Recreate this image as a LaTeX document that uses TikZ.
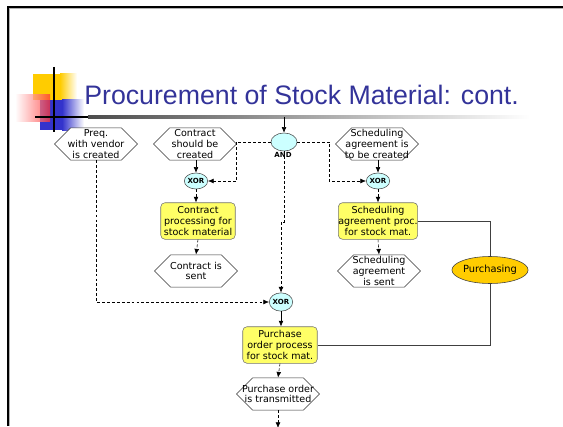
\documentclass[tikz,border=0pt]{standalone}
\usepackage{fontspec}
\usetikzlibrary{shapes.symbols,shapes.geometric,arrows.meta}
\setmainfont{Liberation Sans}
\newfontfamily\diafont{DejaVu Sans}
\definecolor{titleblue}{HTML}{333399}
\definecolor{funcyellow}{HTML}{FFFF66}
\definecolor{conncyan}{HTML}{CCFFFF}
\definecolor{orgorange}{HTML}{FFCC00}
\definecolor{logoblue}{HTML}{3333CC}
\definecolor{logored}{HTML}{FF3333}
\begin{document}
\begin{tikzpicture}[x=0.025cm,y=-0.025cm,>={Latex[length=4pt,width=3.4pt]},
    evtext/.style={inner sep=0pt,align=center,font=\diafont\fontsize{6.8}{7.7}\selectfont},
    event/.style={signal,signal to=east and west,draw=black!80,fill=white,
        minimum width=59pt,minimum height=23pt,inner sep=0pt,
        label={[evtext]center:{#1}}},
    func/.style={rectangle,rounded corners=3pt,draw=black!55,fill=funcyellow,
        minimum width=53pt,minimum height=26pt,inner sep=0pt,align=center,
        font=\diafont\fontsize{6.8}{7.7}\selectfont},
    conn/.style={ellipse,draw=black!70,fill=conncyan,minimum width=15.6pt,
        minimum height=11.4pt,inner sep=0pt,font=\diafont\bfseries\fontsize{5}{5}\selectfont},
    flow/.style={dash pattern=on 2pt off 1.5pt,->},
    link/.style={draw=black!75}]
    \useasboundingbox (0,0) rectangle (563,426);
    % frame
    \draw[gray!60,line width=1.4pt] (9.5,426) -- (9.5,8.5) -- (563,8.5);
    \draw[line width=1.2pt] (8,426) -- (8,7) -- (563,7);
    % logo
    \fill[orgorange] (33,74) rectangle (60,100);
    \shade[left color=orgorange,right color=white] (60,74) rectangle (77,100);
    \fill[logoblue] (40,100) rectangle (62,130);
    \shade[left color=logoblue,right color=white] (62,100) rectangle (84,130);
    \shade[left color=white,right color=logored,opacity=.75] (15,95) rectangle (50,122);
    \draw[line width=1.3pt] (54,67) -- (54,132);
    \draw[line width=1.3pt] (35,117) -- (90,117);
    \shade[left color=black!70,right color=white] (88,115.8) rectangle (530,118.2);
    \node[anchor=base west,inner sep=0pt,text=titleblue,font=\fontsize{19}{22}\selectfont]
        (title) at (84,105) {Procurement of Stock Material: cont.};
    % diagram
    \node[conn,minimum width=18.5pt,minimum height=12.8pt] (and) at (284,142) {};
    \node[font=\diafont\bfseries\fontsize{5}{5}\selectfont,inner sep=0pt] (andlbl) at (283,155) {AND};
    \node[event={Preq.\\with vendor\\is created}] (preq) at (96,144) {};
    \node[event={Contract\\should be\\created}] (cshould) at (195,144) {};
    \node[event={Scheduling\\agreement is\\to be created}] (sshould) at (377,144) {};
    \node[conn] (xorc) at (196,181) {XOR};
    \node[conn] (xors) at (378,181) {XOR};
    \node[func] (cproc) at (198,221) {Contract\\processing for\\stock material};
    \node[func,minimum width=55pt] (sproc) at (378,221) {Scheduling\\agreement proc.\\for stock mat.};
    \node[event={Contract is\\sent}] (csent) at (196,271) {};
    \node[event={Scheduling\\agreement\\is sent}] (ssent) at (379,271) {};
    \node[ellipse,draw=black!75,fill=orgorange,minimum width=54pt,minimum height=19.2pt,
        inner sep=0pt,font=\diafont\fontsize{7}{7.7}\selectfont] (purch) at (490,270) {Purchasing};
    \node[conn,minimum height=13pt] (xorp) at (281,302) {XOR};
    \node[func] (pproc) at (280,345) {Purchase\\order process\\for stock mat.};
    \node[event={Purchase order\\is transmitted}] (ptrans) at (278,394) {};
    \coordinate (start) at (284,117);
    \coordinate (end) at (278,428);
    % connectors
    \draw[->] (start) -- (and);
    \draw[flow] (and.west) -- ++(-34,0) |- (xorc.east);
    \draw[flow] (and.east) -- ++(32,0) |- (xors.west);
    \draw[flow] (and.south) -- ++(0,71) -| (xorp.north);
    \draw[flow] (preq.south) |- (xorp.west);
    \draw[->] (cshould.south -| xorc) -- (xorc.north);
    \draw[->] (sshould.south -| xors) -- (xors.north);
    \draw[flow] (xorc.south) -- (xorc.south |- cproc.north);
    \draw[flow] (xors.south) -- (sproc.north);
    \draw[flow] (cproc.south) -- (csent.north);
    \draw[flow] (sproc.south) -- (ssent.north);
    \draw[->] (xorp.south) -- (xorp.south |- pproc.north);
    \draw[flow] (pproc.south) -- (ptrans.north);
    \draw[flow] (ptrans.south) -- (end);
    \draw[link] (sproc.east) -| (purch.north);
    \draw[link] (purch.south) |- (pproc.east);
\end{tikzpicture}
\end{document}
